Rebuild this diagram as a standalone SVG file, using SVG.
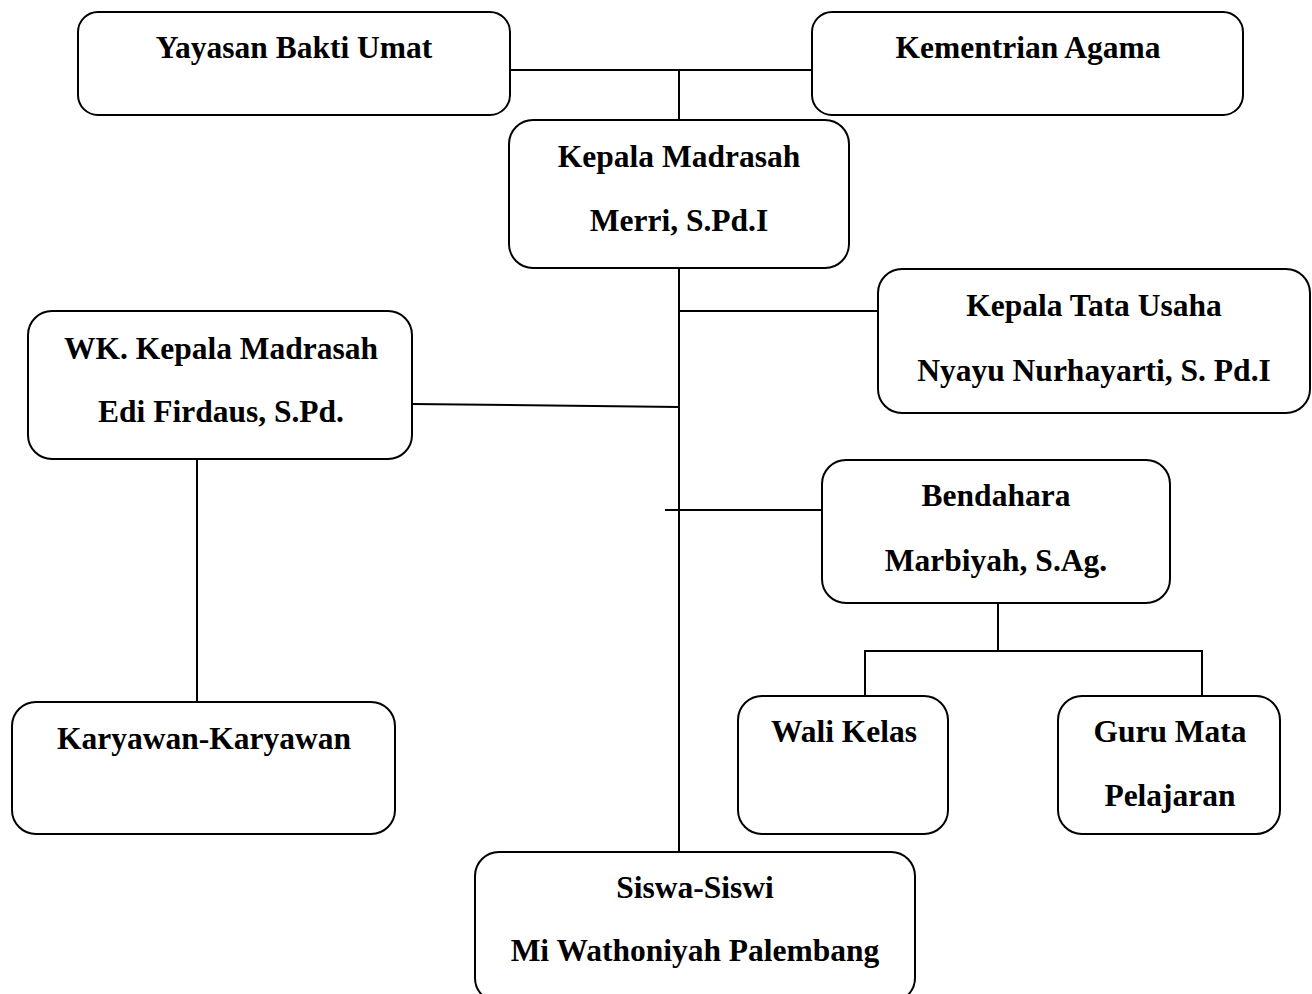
<svg xmlns="http://www.w3.org/2000/svg" width="1312" height="994" viewBox="0 0 1312 994">
<style>
.box{fill:#fff;stroke:#000;stroke-width:2}
.t{font-family:"Liberation Serif","Times New Roman",serif;font-weight:bold;font-size:31.5px;text-anchor:middle;fill:#000}
.ln{stroke:#000;stroke-width:2;fill:none}
</style>
<rect width="1312" height="994" fill="#fff"/>
<g id="connectors">
<line class="ln" x1="510" y1="70" x2="812" y2="70"/>
<line class="ln" x1="679" y1="70" x2="679" y2="120"/>
<line class="ln" x1="679" y1="268" x2="679" y2="852"/>
<line class="ln" x1="679" y1="311" x2="878" y2="311"/>
<line class="ln" x1="412" y1="404" x2="679" y2="407"/>
<line class="ln" x1="665" y1="510" x2="822" y2="510"/>
<line class="ln" x1="197" y1="459" x2="197" y2="702"/>
<polyline class="ln" points="998,603 998,651"/>
<polyline class="ln" points="865,696 865,651 1202,651 1202,696"/>
</g>
<g id="yayasan">
<rect class="box" x="78" y="12" width="432" height="103" rx="20"/>
<text class="t" x="294" y="58">Yayasan Bakti Umat</text>
</g>
<g id="kementrian">
<rect class="box" x="812" y="12" width="431" height="103" rx="20"/>
<text class="t" x="1028" y="58">Kementrian Agama</text>
</g>
<g id="kepala-madrasah">
<rect class="box" x="509" y="120" width="340" height="148" rx="24"/>
<text class="t" x="679" y="167">Kepala Madrasah</text>
<text class="t" x="679" y="231">Merri, S.Pd.I</text>
</g>
<g id="kepala-tata-usaha">
<rect class="box" x="878" y="269" width="432" height="144" rx="24"/>
<text class="t" x="1094" y="316">Kepala Tata Usaha</text>
<text class="t" x="1094" y="381">Nyayu Nurhayarti, S. Pd.I</text>
</g>
<g id="wk-kepala">
<rect class="box" x="28" y="311" width="384" height="148" rx="24"/>
<text class="t" x="221" y="359">WK. Kepala Madrasah</text>
<text class="t" x="221" y="422">Edi Firdaus, S.Pd.</text>
</g>
<g id="bendahara">
<rect class="box" x="822" y="460" width="348" height="143" rx="24"/>
<text class="t" x="996" y="506">Bendahara</text>
<text class="t" x="996" y="571">Marbiyah, S.Ag.</text>
</g>
<g id="karyawan">
<rect class="box" x="12" y="702" width="383" height="132" rx="24"/>
<text class="t" x="204" y="749">Karyawan-Karyawan</text>
</g>
<g id="wali-kelas">
<rect class="box" x="738" y="696" width="210" height="138" rx="24"/>
<text class="t" x="844" y="742">Wali Kelas</text>
</g>
<g id="guru-mapel">
<rect class="box" x="1058" y="696" width="222" height="138" rx="24"/>
<text class="t" x="1170" y="742">Guru Mata</text>
<text class="t" x="1170" y="806">Pelajaran</text>
</g>
<g id="siswa">
<rect class="box" x="475" y="852" width="440" height="150" rx="24"/>
<text class="t" x="695" y="898">Siswa-Siswi</text>
<text class="t" x="695" y="961">Mi Wathoniyah Palembang</text>
</g>
</svg>
